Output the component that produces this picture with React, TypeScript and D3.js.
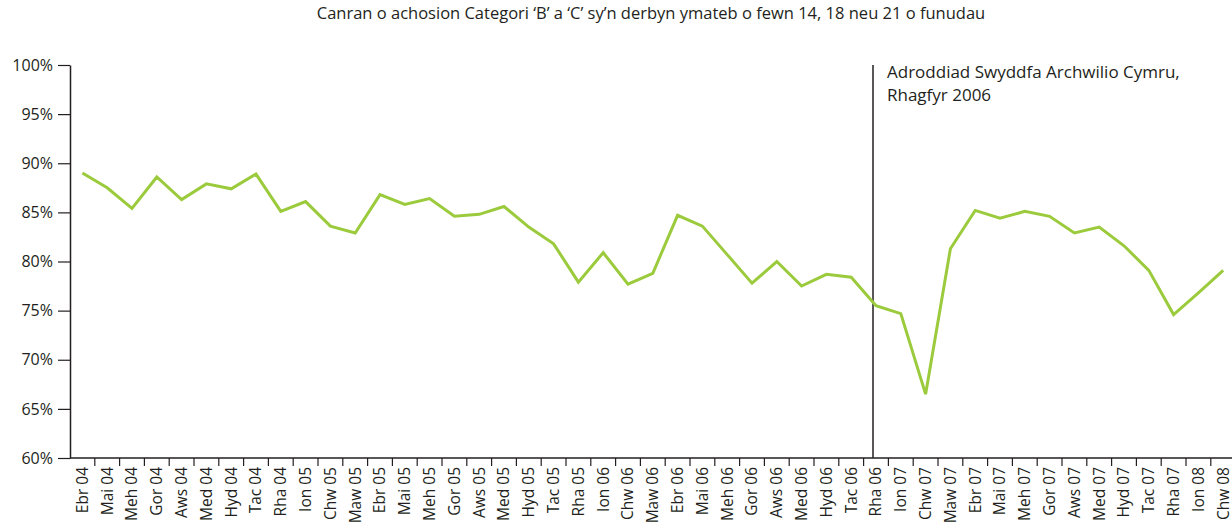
import * as d3 from "d3";
import { useRef, useEffect } from "react";

const months = [
  "Ebr 04", "Mai 04", "Meh 04", "Gor 04", "Aws 04", "Med 04", "Hyd 04", "Tac 04", "Rha 04",
  "Ion 05", "Chw 05", "Maw 05", "Ebr 05", "Mai 05", "Meh 05", "Gor 05", "Aws 05", "Med 05", "Hyd 05", "Tac 05", "Rha 05",
  "Ion 06", "Chw 06", "Maw 06", "Ebr 06", "Mai 06", "Meh 06", "Gor 06", "Aws 06", "Med 06", "Hyd 06", "Tac 06", "Rha 06",
  "Ion 07", "Chw 07", "Maw 07", "Ebr 07", "Mai 07", "Meh 07", "Gor 07", "Aws 07", "Med 07", "Hyd 07", "Tac 07", "Rha 07",
  "Ion 08", "Chw 08",
];

const percent = [
  89.0, 87.5, 85.4, 88.6, 86.3, 87.9, 87.4, 88.9, 85.1,
  86.1, 83.6, 82.9, 86.8, 85.8, 86.4, 84.6, 84.8, 85.6, 83.5, 81.8, 77.9,
  80.9, 77.7, 78.8, 84.7, 83.6, 80.7, 77.8, 80.0, 77.5, 78.7, 78.4, 75.5,
  74.7, 66.5, 81.3, 85.2, 84.4, 85.1, 84.6, 82.9, 83.5, 81.6, 79.1, 74.6,
  76.8, 79.1,
];

const yTicks = [60, 65, 70, 75, 80, 85, 90, 95, 100];

const title = "Canran o achosion Categori ‘B’ a ‘C’ sy’n derbyn ymateb o fewn 14, 18 neu 21 o funudau";
const noteMonth = "Rha 06";
const noteLines = ["Adroddiad Swyddfa Archwilio Cymru,", "Rhagfyr 2006"];

export default function App() {
  const ref = useRef<SVGSVGElement>(null);

  useEffect(() => {
    const width = 1232;
    const height = 531;
    const marginLeft = 70;
    const marginTop = 65;
    const plotBottom = 458;
    const step = 24.8;
    const font = "'Open Sans', 'Noto Sans', sans-serif";
    const ink = "#231f20";

    const svg = d3.select(ref.current);
    svg.selectAll("*").remove();
    svg.attr("width", width).attr("height", height);

    const x = d3.scaleBand()
      .domain(months)
      .range([marginLeft, marginLeft + months.length * step])
      .padding(0);

    const y = d3.scaleLinear()
      .domain([60, 100])
      .range([plotBottom, marginTop]);

    // title
    svg.append("text")
      .attr("x", 651)
      .attr("y", 19)
      .attr("text-anchor", "middle")
      .attr("font-family", font)
      .attr("font-size", 16.5)
      .attr("fill", ink)
      .text(title);

    // y axis
    svg.append("g")
      .attr("transform", `translate(${marginLeft},0)`)
      .call(d3.axisLeft(y).tickValues(yTicks).tickSize(12).tickSizeOuter(0).tickPadding(5).tickFormat(d => `${d}%`))
      .call(g => g.select(".domain").attr("stroke", ink).attr("stroke-width", 1.5))
      .call(g => g.selectAll(".tick line").attr("stroke", ink).attr("stroke-width", 1.2))
      .call(g => g.selectAll("text")
        .attr("font-family", font)
        .attr("font-size", 16)
        .attr("fill", ink));

    // x axis: labels at band centres, ticks at band edges
    const xg = svg.append("g")
      .attr("transform", `translate(0,${plotBottom})`)
      .call(d3.axisBottom(x).tickSize(0).tickSizeOuter(0));
    xg.select(".domain").remove();
    xg.append("line")
      .attr("x1", marginLeft).attr("x2", width)
      .attr("stroke", ink).attr("stroke-width", 1.5);
    xg.selectAll("line.edge")
      .data(months)
      .join("line")
      .attr("class", "edge")
      .attr("x1", d => x(d)! + step)
      .attr("x2", d => x(d)! + step)
      .attr("y1", 0).attr("y2", 8)
      .attr("stroke", ink).attr("stroke-width", 1.2);
    xg.selectAll(".tick text")
      .attr("font-family", font)
      .attr("font-size", 15.5)
      .attr("fill", ink)
      .attr("text-anchor", "end")
      .attr("transform", "rotate(-90)")
      .attr("x", -9)
      .attr("y", 0)
      .attr("dy", "0.35em");

    // annotation line
    const nx = x(noteMonth)! + x.bandwidth() / 2 - 3;
    svg.append("line")
      .attr("x1", nx).attr("x2", nx)
      .attr("y1", marginTop).attr("y2", plotBottom)
      .attr("stroke", ink).attr("stroke-width", 1.5);
    svg.append("text")
      .attr("font-family", font)
      .attr("font-size", 17)
      .attr("fill", ink)
      .selectAll("tspan")
      .data(noteLines)
      .join("tspan")
      .attr("x", nx + 14)
      .attr("y", (_, i) => 78 + i * 23)
      .text(d => d);

    // series line
    const line = d3.line<number>()
      .x((_, i) => x(months[i])! + x.bandwidth() / 2)
      .y(d => y(d));
    svg.append("path")
      .datum(percent)
      .attr("fill", "none")
      .attr("stroke", "#9bcb3c")
      .attr("stroke-width", 3)
      .attr("stroke-linejoin", "miter")
      .attr("d", line);
  }, []);

  return (
    <div style={{ position: "absolute", left: 0, top: 0 }}>
      <svg ref={ref} style={{ display: "block" }} />
    </div>
  );
}
